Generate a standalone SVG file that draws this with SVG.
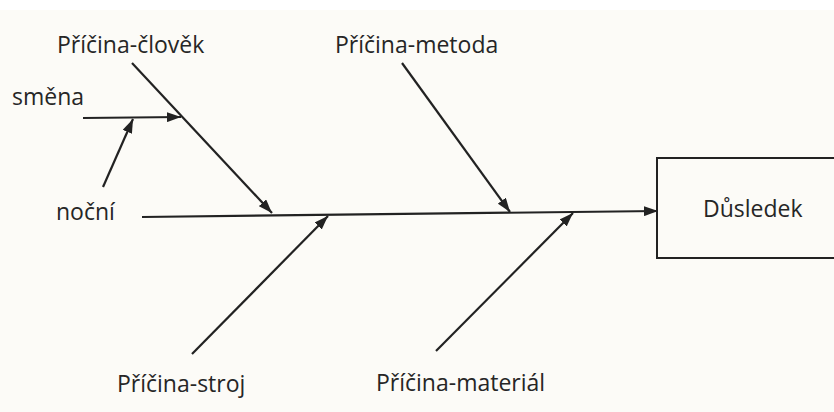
<svg xmlns="http://www.w3.org/2000/svg" width="834" height="412" viewBox="0 0 834 412">
<defs>
<marker id="ah" viewBox="0 0 14 10" refX="14" refY="5" markerWidth="14" markerHeight="10" markerUnits="userSpaceOnUse" orient="auto">
<path d="M0,0 L14,5 L0,10 Z" fill="#222"/>
</marker>
</defs>
<style>
.t{font-family:"Open Sans","Liberation Sans",sans-serif;font-size:23px;fill:#262626}
.c{stroke:#222;stroke-width:2.2;fill:none}
</style>
<rect width="834" height="412" fill="#fcfbf7"/>
<rect width="834" height="10" fill="#ffffff"/>
<g id="connectors">
<line class="c" x1="142" y1="217" x2="658" y2="211" marker-end="url(#ah)"/>
<line class="c" x1="132" y1="63" x2="272" y2="213" marker-end="url(#ah)"/>
<line class="c" x1="402" y1="63" x2="510" y2="212" marker-end="url(#ah)"/>
<line class="c" x1="192" y1="354" x2="328" y2="216" marker-end="url(#ah)"/>
<line class="c" x1="436" y1="351" x2="573" y2="213" marker-end="url(#ah)"/>
<line class="c" x1="83" y1="118" x2="181" y2="117" marker-end="url(#ah)"/>
<line class="c" x1="103" y1="187" x2="133" y2="119" marker-end="url(#ah)"/>
</g>
<g id="clovek"><text class="t" x="57" y="53">Příčina-člověk</text></g>
<g id="metoda"><text class="t" x="335" y="53">Příčina-metoda</text></g>
<g id="smena"><text class="t" x="12" y="105">směna</text></g>
<g id="nocni"><text class="t" x="56" y="220">noční</text></g>
<g id="stroj"><text class="t" x="117" y="392">Příčina-stroj</text></g>
<g id="material"><text class="t" x="376" y="391">Příčina-materiál</text></g>
<g id="dusledek">
<rect x="657" y="158" width="190" height="100" fill="none" stroke="#222" stroke-width="2"/>
<text class="t" x="703" y="217">Důsledek</text>
</g>
</svg>
